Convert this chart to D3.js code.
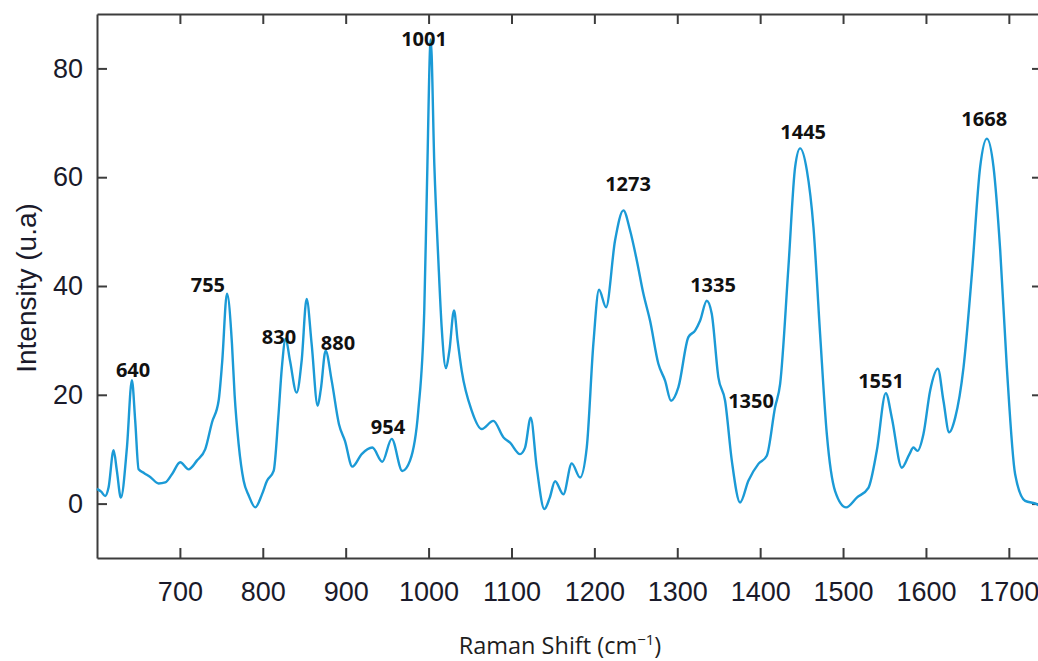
<!DOCTYPE html>
<html>
<head>
<meta charset="utf-8">
<script src="https://cdn.jsdelivr.net/npm/d3@7"></script>
<style>
  body { margin: 0; background: #fff; }
  svg { display: block; }
</style>
</head>
<body>
<div id="my_chart"></div>
<script>
// spectrum
var ramanShift = [600, 605, 609.9, 614, 620, 624, 628.8, 636.1, 642.1, 646.1, 650.2, 657, 664.2, 674.3, 682.3, 690.4,
  700.4, 710.5, 720.5, 730.6, 738.7, 746.7, 751, 756.8, 762.8, 766, 770.9, 776.9, 783, 790.9, 799, 805.1,
  813.1, 818.7, 823, 827.6, 832.8, 840.8, 846.9, 852.9, 858.9, 866.2, 870, 875.8, 883.1, 891.9, 899.2,
  908, 919.3, 932.1, 944.2, 955.5, 968.3, 977.6, 987.6, 994.8, 998, 1002.6, 1007, 1011.8, 1015.8, 1021,
  1025, 1030.7, 1035, 1040, 1052, 1064.1, 1078.1, 1090.2, 1098.3, 1110.3, 1116.4, 1123.2, 1130.5, 1139.7,
  1146, 1152.6, 1162.6, 1172.7, 1182.7, 1190.8, 1198.8, 1205.6, 1214.1, 1225, 1235, 1243.1, 1251.2,
  1259.1, 1267.2, 1277.2, 1285.3, 1292.5, 1301.4, 1313.4, 1321.5, 1327.5, 1335.6, 1341.6, 1349.6,
  1357.7, 1365.8, 1375.8, 1385.8, 1397.9, 1408, 1418, 1424.1, 1434.1, 1442.2, 1448.2, 1456.3, 1464.3,
  1472.3, 1480.4, 1490.4, 1503.7, 1516.6, 1530.6, 1540.7, 1551.6, 1558.8, 1570.9, 1580.1, 1584.9,
  1589.8, 1597, 1605.1, 1614.4, 1621.1, 1628, 1635.3, 1645.3, 1655.4, 1665.4, 1673.5, 1681.5, 1689.6,
  1697.6, 1707.6, 1719.7, 1733.8, 1738];
var intensity = [2.7, 2.2, 1.4, 3, 9.8, 6, 1.1, 10.3, 22.7, 15.2, 6.3, 5.6, 4.9, 3.7, 3.9, 5.4,
  7.6, 6.3, 7.9, 10, 14.9, 18.9, 26, 38.6, 29.4, 20, 10.9, 4.2, 1.5, -0.7, 1.7, 4.2,
  6.0, 15.8, 25, 30.3, 26.3, 20.4, 26.3, 37.6, 29.4, 18, 21, 28.1, 22.6, 14.6, 11.5,
  6.8, 9.1, 10.3, 7.7, 11.9, 6.0, 7.9, 17.1, 35.5, 58, 85.3, 62, 44.7, 32.4, 24.9,
  28, 35.5, 30, 24.4, 17.1, 13.7, 15.2, 12.2, 11.2, 9.1, 10.3, 15.8, 6.6, -1.0,
  1, 4.1, 1.7, 7.4, 4.8, 10.3, 29.4, 39.3, 36.1, 48.4, 53.9, 50.2, 44.7,
  38.6, 33.6, 25.7, 22.6, 18.9, 21.4, 30.6, 31.8, 33.6, 37.3, 34.9, 23.2,
  18.9, 7.9, 0.2, 4.2, 7.3, 8.8, 17.7, 22, 43.5, 61.9, 65.3, 61.3, 50.8,
  31.2, 12.8, 2.3, -0.7, 1.1, 2.9, 9.7, 20.3, 15.8, 6.6, 9.1, 10.3,
  9.7, 12.8, 20.8, 24.8, 18.9, 13.1, 15.8, 25, 42.2, 61.9, 67.1, 61.9, 46.5,
  25, 5.4, 0.5, -0.1, -0.5];

// peak labels (text, and where they sit in data units)
var peakNames = ["640", "755", "830", "880", "954", "1001", "1273", "1335", "1350", "1445", "1551", "1668"];
var peakLabelX = [643.5, 733.8, 819.5, 890.7, 951, 994.5, 1240.6, 1343.2, 1389, 1451.9, 1545.8, 1670.3];
var peakLabelY = [23.2, 38.9, 29.4, 28.3, 12.8, 84.2, 57.5, 38.9, 17.6, 67.1, 21.3, 69.5];

var xTicks = [700, 800, 900, 1000, 1100, 1200, 1300, 1400, 1500, 1600, 1700];
var yTicks = [0, 20, 40, 60, 80];

// plot box (the right edge falls just outside the picture)
var W = 1038, H = 661;
var margin = {left: 97, right: 1042, top: 14, bottom: 558};

var svg = d3.select("#my_chart")
  .append("svg")
    .attr("width", W)
    .attr("height", H);

var x = d3.scaleLinear().domain([600, 1740]).range([margin.left, margin.right]);
var y = d3.scaleLinear().domain([-10, 90]).range([margin.bottom, margin.top]);

var axisColor = "#3c3c3c";
var tickFont = "'Liberation Sans', Arial, sans-serif";

// bottom axis with labels
var gx = svg.append("g")
  .attr("transform", "translate(0," + margin.bottom + ")")
  .call(d3.axisBottom(x).tickValues(xTicks).tickFormat(d3.format("d"))
    .tickSizeInner(-10).tickSizeOuter(0).tickPadding(24));

// left axis with labels
var gy = svg.append("g")
  .attr("transform", "translate(" + margin.left + ",0)")
  .call(d3.axisLeft(y).tickValues(yTicks).tickSizeInner(-10).tickSizeOuter(0).tickPadding(14));

// top and right: ticks only
var gt = svg.append("g")
  .attr("transform", "translate(0," + margin.top + ")")
  .call(d3.axisBottom(x).tickValues(xTicks).tickSizeInner(10).tickSizeOuter(0).tickFormat(""));
var gr = svg.append("g")
  .attr("transform", "translate(" + margin.right + ",0)")
  .call(d3.axisLeft(y).tickValues(yTicks).tickSizeInner(10).tickSizeOuter(0).tickFormat(""));

[gx, gy, gt, gr].forEach(function(g) {
  g.select(".domain").attr("stroke", axisColor).attr("stroke-width", 2);
  g.selectAll(".tick line").attr("stroke", axisColor).attr("stroke-width", 2);
  g.selectAll(".tick text")
    .attr("fill", "#1a1a2a")
    .style("font-family", tickFont)
    .style("font-size", "27px");
});

// the spectrum
var points = ramanShift.map(function(d, i) { return [d, intensity[i]]; });
svg.append("path")
  .datum(points)
  .attr("fill", "none")
  .attr("stroke", "#1b9ad6")
  .attr("stroke-width", 2.4)
  .attr("stroke-linejoin", "round")
  .attr("d", d3.line()
    .x(function(d) { return x(d[0]); })
    .y(function(d) { return y(d[1]); })
    .curve(d3.curveMonotoneX));

// peak labels
svg.selectAll("text.peak")
  .data(peakNames)
  .enter()
  .append("text")
    .attr("class", "peak")
    .attr("x", function(d, i) { return x(peakLabelX[i]); })
    .attr("y", function(d, i) { return y(peakLabelY[i]); })
    .attr("text-anchor", "middle")
    .style("font-family", "'Open Sans', sans-serif")
    .style("font-weight", "bold")
    .style("font-size", "20px")
    .attr("fill", "#111")
    .text(function(d) { return d; });

// axis titles
svg.append("text")
  .attr("transform", "translate(26,288)rotate(-90)")
  .attr("text-anchor", "middle")
  .attr("dominant-baseline", "central")
  .style("font-family", tickFont)
  .style("font-size", "28px")
  .attr("fill", "#1a1a2a")
  .text("Intensity (u.a)");

var xt = svg.append("text")
  .attr("x", 560)
  .attr("y", 654)
  .attr("text-anchor", "middle")
  .style("font-family", "'Open Sans', sans-serif")
  .style("font-size", "23.5px")
  .attr("fill", "#1e1e1e");
xt.append("tspan").text("Raman Shift (cm");
xt.append("tspan").attr("dy", -9).style("font-size", "15px").text("\u22121");
xt.append("tspan").attr("dy", 9).text(")");
</script>
</body>
</html>
